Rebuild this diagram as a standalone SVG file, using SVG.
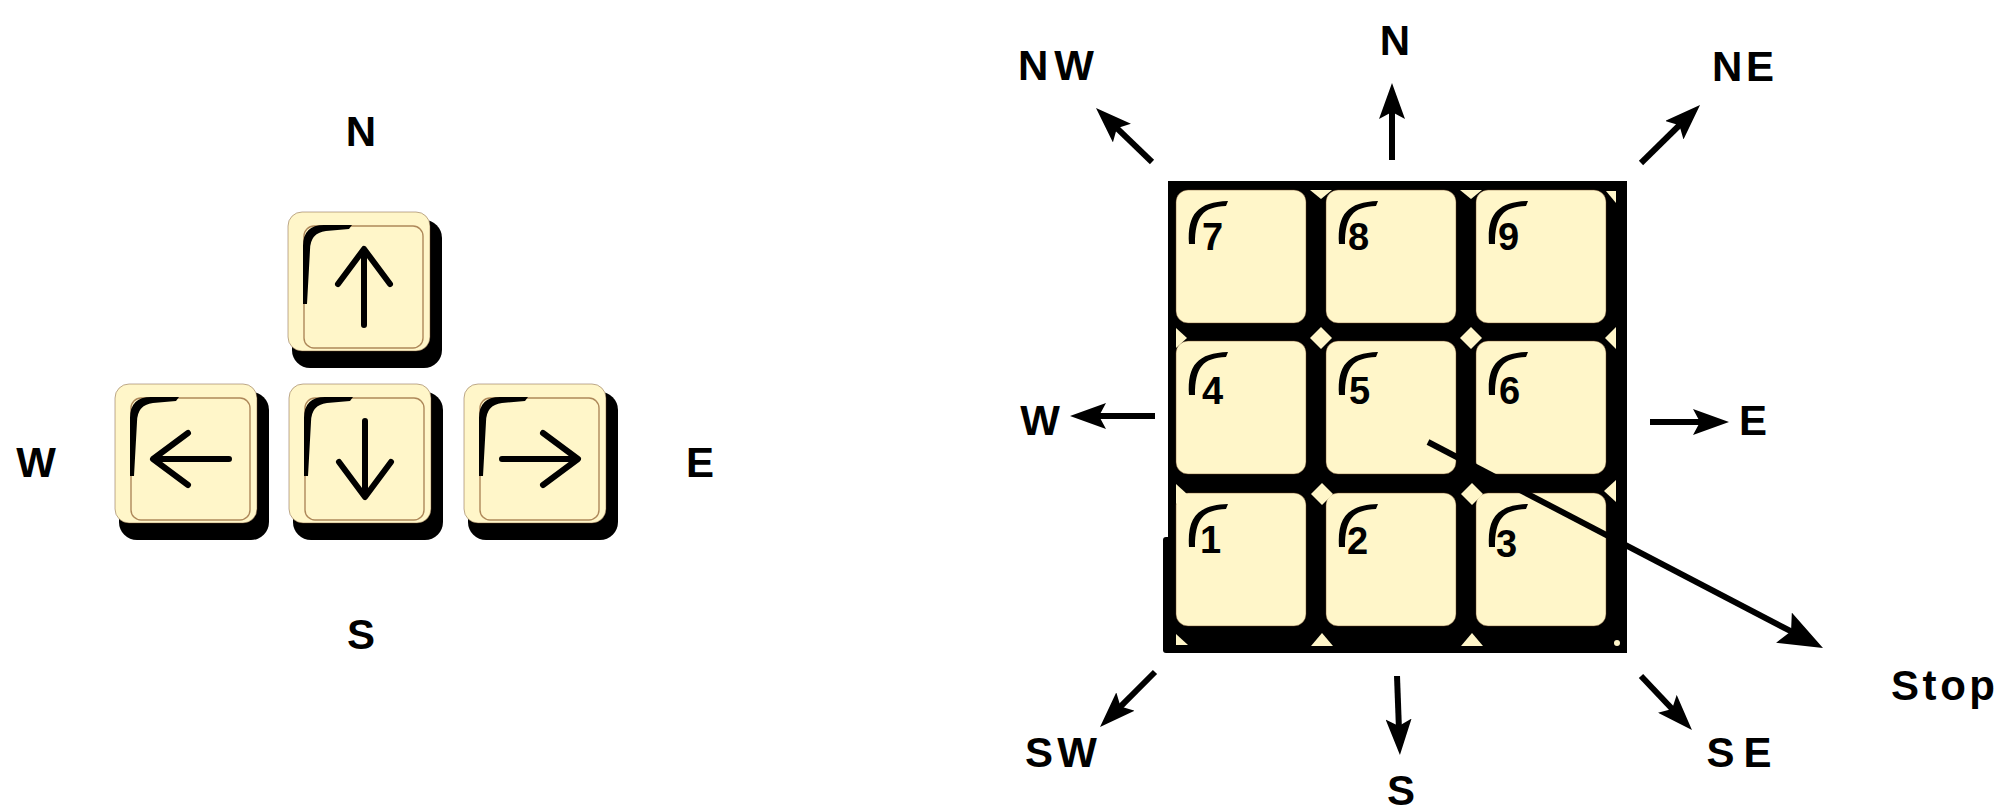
<svg xmlns="http://www.w3.org/2000/svg" xmlns:xlink="http://www.w3.org/1999/xlink" width="2001" height="811" viewBox="0 0 2001 811">
<style>
.lbl{font-family:"Liberation Sans",Arial,sans-serif;font-weight:bold;font-size:42px;fill:#000;text-anchor:middle}
.dig{font-family:"Liberation Sans",Arial,sans-serif;font-weight:bold;font-size:38px;fill:#000}
.kbody{fill:#000}
.kcap{fill:#FFF6C9;stroke:#6b4526;stroke-width:1;stroke-opacity:0.45}
.kface{fill:#FFF6C9;stroke:#8b5a2b;stroke-width:1.4;stroke-opacity:0.7}
.kshade{fill:#000}
.glyph{fill:none;stroke:#000;stroke-width:6;stroke-linecap:round;stroke-linejoin:round}
.pcap{fill:#FFF6C9;stroke:#6b4526;stroke-width:1;stroke-opacity:0.45}
.chip{fill:#FFF6C9}
.conn{stroke:#000;stroke-width:6;fill:none}
</style>
<defs>
<marker id="ah" markerUnits="userSpaceOnUse" viewBox="0 0 36 26" markerWidth="36" markerHeight="26" refX="11" refY="13" orient="auto">
<path d="M0,0 L36,13 L0,26 L7,13 Z" fill="#000"/>
</marker>
<marker id="ahBig" markerUnits="userSpaceOnUse" viewBox="0 0 44 34" markerWidth="44" markerHeight="34" refX="12" refY="17" orient="auto">
<path d="M0,0 L44,17 L0,34 L8,17 Z" fill="#000"/>
</marker>
<g id="akey">
<rect class="kbody" x="4" y="8" width="150" height="148" rx="18"/>
<rect class="kcap" x="0" y="0" width="142" height="139" rx="14"/>
<rect class="kface" x="16" y="14" width="119" height="122" rx="10"/>
<path class="kshade" d="M15,92 L15,34 Q15,13 36,13 L64,13 L61,17 L38,19 Q22,21 22,38 L19,92 Z"/>
</g>
<path id="uparrow" class="glyph" d="M76,113 V39 M50,72 L76,37 L102,72"/>
<g id="pkey">
<rect class="pcap" x="0" y="0" width="130" height="133" rx="12"/>
<path class="kshade" d="M13,54 C11,24 22,12 52,11 L50,16 C27,17 19,26 19,54 Z"/>
</g>
</defs>
<rect width="2001" height="811" fill="#fff"/>

<!-- Left cluster: arrow keys -->
<g id="key-up" transform="translate(288,212)">
<use xlink:href="#akey"/>
<use xlink:href="#uparrow"/>
</g>
<g id="key-left" transform="translate(115,384)">
<use xlink:href="#akey"/>
<use xlink:href="#uparrow" transform="rotate(-90 76 75)"/>
</g>
<g id="key-down" transform="translate(289,384)">
<use xlink:href="#akey"/>
<use xlink:href="#uparrow" transform="rotate(180 76 75)"/>
</g>
<g id="key-right" transform="translate(464,384)">
<use xlink:href="#akey"/>
<use xlink:href="#uparrow" transform="rotate(90 76 75)"/>
</g>
<g id="left-labels">
<text class="lbl" x="361" y="146">N</text>
<text class="lbl" x="36" y="477">W</text>
<text class="lbl" x="700" y="477">E</text>
<text class="lbl" x="361" y="649">S</text>
</g>

<!-- Numeric keypad -->
<g id="keypad">
<rect x="1168" y="181" width="459" height="472" fill="#000"/>
<rect x="1163" y="537" width="10" height="116" rx="3" fill="#000"/>
<g id="key-7" transform="translate(1176,190)"><use xlink:href="#pkey"/><text class="dig" x="26" y="60">7</text></g>
<g id="key-8" transform="translate(1326,190)"><use xlink:href="#pkey"/><text class="dig" x="22" y="60">8</text></g>
<g id="key-9" transform="translate(1476,190)"><use xlink:href="#pkey"/><text class="dig" x="22" y="60">9</text></g>
<g id="key-4" transform="translate(1176,341)"><use xlink:href="#pkey"/><text class="dig" x="26" y="63">4</text></g>
<g id="key-5" transform="translate(1326,341)"><use xlink:href="#pkey"/><text class="dig" x="23" y="63">5</text></g>
<g id="key-6" transform="translate(1476,341)"><use xlink:href="#pkey"/><text class="dig" x="23" y="63">6</text></g>
<g id="key-1" transform="translate(1176,493)"><use xlink:href="#pkey"/><text class="dig" x="24" y="60">1</text></g>
<g id="key-2" transform="translate(1326,493)"><use xlink:href="#pkey"/><text class="dig" x="21" y="61">2</text></g>
<g id="key-3" transform="translate(1476,493)"><use xlink:href="#pkey"/><text class="dig" x="20" y="64">3</text></g>
<g id="keypad-chips">
<polygon class="chip" points="1321,327 1332,338 1321,349 1310,338"/>
<polygon class="chip" points="1471,327 1482,338 1471,349 1460,338"/>
<polygon class="chip" points="1322,483 1333,494 1322,505 1311,494"/>
<polygon class="chip" points="1472,483 1483,494 1472,505 1461,494"/>
<polygon class="chip" points="1176,328 1187,338 1176,348"/>
<polygon class="chip" points="1176,484 1187,494 1176,504"/>
<polygon class="chip" points="1176,634 1188,645 1176,645"/>
<polygon class="chip" points="1311,646 1322,633 1333,646"/>
<polygon class="chip" points="1461,646 1472,633 1483,646"/>
<polygon class="chip" points="1310,190 1332,190 1321,199"/>
<polygon class="chip" points="1460,190 1482,190 1471,199"/>
<polygon class="chip" points="1616,327 1616,349 1605,338"/>
<polygon class="chip" points="1616,480 1616,502 1604,491"/>
<polygon class="chip" points="1606,191 1616,191 1616,203"/>
<circle class="chip" cx="1617" cy="643" r="3"/>
</g>
</g>

<!-- Connectors -->
<g id="connectors">
<line class="conn" x1="1392" y1="160" x2="1392" y2="108" marker-end="url(#ah)"/>
<line class="conn" x1="1152" y1="162" x2="1114" y2="125.4" marker-end="url(#ah)"/>
<line class="conn" x1="1641" y1="163" x2="1682.2" y2="122.5" marker-end="url(#ah)"/>
<line class="conn" x1="1155" y1="416" x2="1095" y2="416" marker-end="url(#ah)"/>
<line class="conn" x1="1650" y1="422" x2="1704" y2="422" marker-end="url(#ah)"/>
<line class="conn" x1="1155" y1="672" x2="1117.7" y2="709.3" marker-end="url(#ah)"/>
<line class="conn" x1="1397" y1="676" x2="1399" y2="730" marker-end="url(#ah)"/>
<line class="conn" x1="1641" y1="676" x2="1674.8" y2="711.8" marker-end="url(#ah)"/>
<line class="conn" x1="1428" y1="442" x2="1794.6" y2="633.2" marker-end="url(#ahBig)"/>
</g>

<g id="right-labels">
<text class="lbl" x="1056" y="80" textLength="76" lengthAdjust="spacing">NW</text>
<text class="lbl" x="1395" y="55">N</text>
<text class="lbl" x="1743" y="81" textLength="62" lengthAdjust="spacing">NE</text>
<text class="lbl" x="1040" y="435">W</text>
<text class="lbl" x="1753" y="435">E</text>
<text class="lbl" x="1061" y="767" textLength="72" lengthAdjust="spacing">SW</text>
<text class="lbl" x="1401" y="805">S</text>
<text class="lbl" x="1739" y="767" textLength="65" lengthAdjust="spacing">SE</text>
<text class="lbl" x="1943" y="700" textLength="104" lengthAdjust="spacing">Stop</text>
</g>
</svg>
